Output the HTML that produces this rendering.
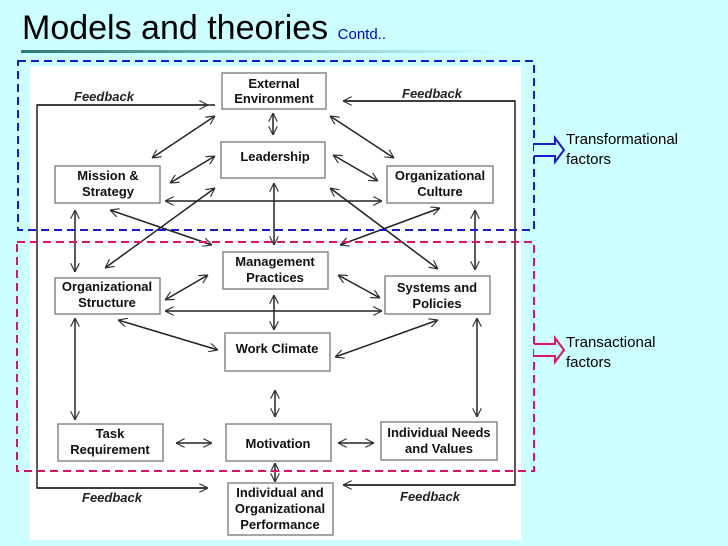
<!DOCTYPE html>
<html><head><style>
body{margin:0;width:728px;height:546px;background:#ccffff;position:relative;overflow:hidden;font-family:"Liberation Sans",Arial,sans-serif}
.t{position:absolute;left:22px;top:9px;font-size:34px;color:#000;white-space:nowrap}
.t span{font-size:15px;color:#0000cc}
.side{position:absolute;left:566px;font-size:15px;color:#000;line-height:20px}
</style></head><body>
<div class="t">Models and theories <span>Contd..</span></div>
<svg width="728" height="546" style="position:absolute;left:0;top:0" font-family="Liberation Sans,Arial,sans-serif">
<defs>
<linearGradient id="g" x1="0" x2="1"><stop offset="0" stop-color="#2a7a78"/><stop offset="1" stop-color="#ccffff"/></linearGradient>
<marker id="a" viewBox="0 0 10 10" refX="10" refY="5" markerWidth="9" markerHeight="9" orient="auto-start-reverse" markerUnits="userSpaceOnUse"><path d="M0,0 L10,5 L0,10" fill="none" stroke="#333" stroke-width="1.3"/></marker>
</defs>
<rect x="21" y="50" width="480" height="3" fill="url(#g)"/>
<rect x="30" y="66" width="491" height="474" fill="#fff"/>
<g fill="#fff" stroke="#888" stroke-width="1.5">
<rect x="222" y="73" width="104" height="36"/>
<rect x="221" y="142" width="104" height="36"/>
<rect x="55" y="166" width="105" height="37"/>
<rect x="387" y="166" width="106" height="37"/>
<rect x="223" y="252" width="105" height="37"/>
<rect x="55" y="278" width="105" height="36"/>
<rect x="385" y="276" width="105" height="38"/>
<rect x="225" y="333" width="105" height="38"/>
<rect x="58" y="424" width="105" height="37"/>
<rect x="226" y="424" width="105" height="37"/>
<rect x="381" y="422" width="116" height="38"/>
<rect x="228" y="483" width="105" height="52"/>
</g>
<g font-size="13" font-weight="bold" text-anchor="middle" fill="#111">
<text x="274" y="88">External</text><text x="274" y="103">Environment</text>
<text x="275" y="161">Leadership</text>
<text x="108" y="180">Mission &amp;</text><text x="108" y="196">Strategy</text>
<text x="440" y="180">Organizational</text><text x="440" y="196">Culture</text>
<text x="275" y="266">Management</text><text x="275" y="282">Practices</text>
<text x="107" y="291">Organizational</text><text x="107" y="307">Structure</text>
<text x="437" y="292">Systems and</text><text x="437" y="308">Policies</text>
<text x="277" y="353">Work Climate</text>
<text x="110" y="438">Task</text><text x="110" y="454">Requirement</text>
<text x="278" y="448">Motivation</text>
<text x="439" y="437">Individual Needs</text><text x="439" y="453">and Values</text>
<text x="280" y="497">Individual and</text><text x="280" y="513">Organizational</text><text x="280" y="529">Performance</text>
</g>
<g font-size="13" font-weight="bold" font-style="italic" fill="#222">
<text x="74" y="101">Feedback</text><text x="402" y="98">Feedback</text>
<text x="82" y="502">Feedback</text><text x="400" y="501">Feedback</text>
</g>
<g stroke="#222" stroke-width="1.5" fill="none" marker-end="url(#a)">
<polyline points="215,105 37,105 37,488 208,488" marker-end="none"/>
<line x1="37" y1="105" x2="208" y2="105"/>
<line x1="37" y1="488" x2="208" y2="488"/>
<polyline points="343,101 515,101 515,485 343,485" marker-end="none"/>
<line x1="515" y1="101" x2="343" y2="101"/>
<line x1="515" y1="485" x2="343" y2="485"/>
</g>
<g stroke="#222" stroke-width="1.5" marker-start="url(#a)" marker-end="url(#a)">
<line x1="273" y1="113" x2="273" y2="135"/>
<line x1="215" y1="116" x2="152" y2="158"/>
<line x1="330" y1="116" x2="394" y2="158"/>
<line x1="215" y1="156" x2="170" y2="183"/>
<line x1="333" y1="155" x2="378" y2="181"/>
<line x1="165" y1="201" x2="382" y2="201"/>
<line x1="274" y1="183" x2="274" y2="245"/>
<line x1="110" y1="210" x2="212" y2="245"/>
<line x1="215" y1="188" x2="105" y2="268"/>
<line x1="330" y1="188" x2="438" y2="269"/>
<line x1="440" y1="208" x2="340" y2="245"/>
<line x1="75" y1="210" x2="75" y2="272"/>
<line x1="475" y1="210" x2="475" y2="270"/>
<line x1="208" y1="275" x2="165" y2="300"/>
<line x1="338" y1="275" x2="380" y2="298"/>
<line x1="165" y1="311" x2="382" y2="311"/>
<line x1="274" y1="295" x2="274" y2="330"/>
<line x1="118" y1="320" x2="218" y2="350"/>
<line x1="438" y1="320" x2="335" y2="357"/>
<line x1="75" y1="318" x2="75" y2="420"/>
<line x1="477" y1="318" x2="477" y2="417"/>
<line x1="275" y1="390" x2="275" y2="417"/>
<line x1="176" y1="443" x2="212" y2="443"/>
<line x1="338" y1="443" x2="374" y2="443"/>
<line x1="275" y1="463" x2="275" y2="482"/>
</g>
<rect x="18" y="61" width="516" height="169" fill="none" stroke="#1a1acc" stroke-width="2" stroke-dasharray="8,5"/>
<rect x="17" y="242" width="517" height="229" fill="none" stroke="#dd1166" stroke-width="2" stroke-dasharray="8,5"/>
<path d="M534,144 H555 V138 L564,150 L555,162 V156 H534" fill="#ccffff" stroke="#1a1acc" stroke-width="2"/>
<path d="M534,344 H555 V338 L564,350 L555,362 V356 H534" fill="#ccffff" stroke="#dd1166" stroke-width="2"/>
</svg>
<div class="side" style="top:130px">Transformational<br>factors</div>
<div class="side" style="top:333px">Transactional<br>factors</div>
</body></html>
